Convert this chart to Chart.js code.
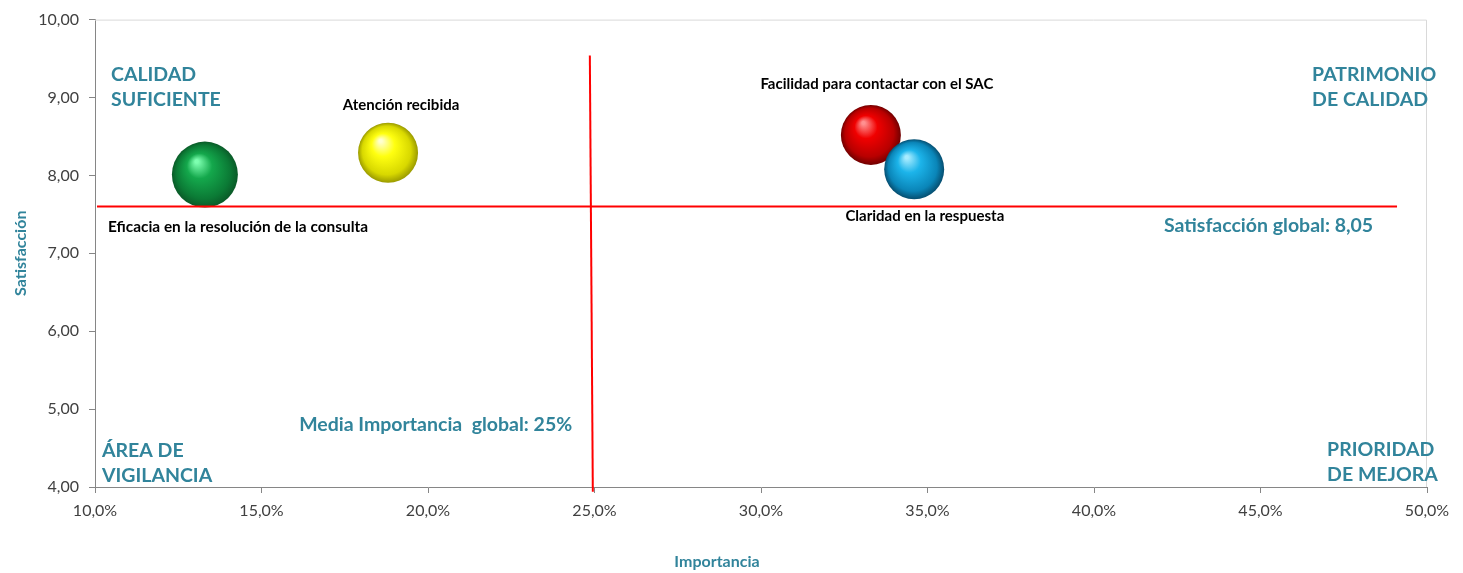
<!DOCTYPE html>
<html>
<head>
<meta charset="utf-8">
<script src="https://cdn.jsdelivr.net/npm/chart.js@4.4.1/dist/chart.umd.min.js"></script>
<style>
  html, body { margin: 0; padding: 0; background: #fff; }
  #wrap { width: 1463px; height: 573px; }
</style>
</head>
<body>
<div id="wrap"><canvas id="chart" width="1463" height="573"></canvas></div>
<script>
// data
const atributos = ["Eficacia en la resolución de la consulta", "Atención recibida", "Facilidad para contactar con el SAC", "Claridad en la respuesta"]
const importancia = [13.3, 18.8, 33.3, 34.6]
const satisfaccion = [8.01, 8.29, 8.52, 8.08]
const tamano = [33, 30, 30, 30]
const colores = [
    ["#7dffb0", "#14a84c", "#0b7a35", "#0a5a28"],
    ["#ffffd0", "#ffff10", "#d8d800", "#9a9a00"],
    ["#ff9090", "#f00000", "#b80000", "#700000"],
    ["#a8ecff", "#1cb4ea", "#0a85b8", "#064e70"]
]
const mediaImportancia = 25
const satisfaccionLinea = 7.6
const xTicks = [10, 15, 20, 25, 30, 35, 40, 45, 50]
const yTicks = [4, 5, 6, 7, 8, 9, 10]

const teal = "#31849B"
const font = "Lato, 'Open Sans', sans-serif"

// textos sobre el grafico (coordenadas en unidades de los ejes)
const textos = [
    { lines: ["CALIDAD", "SUFICIENTE"], x: 10.48, y: 9.29, align: "left", color: teal, size: 19.5, bold: true },
    { lines: ["PATRIMONIO", "DE CALIDAD"], x: 46.55, y: 9.29, align: "left", color: teal, size: 19.5, bold: true },
    { lines: ["ÁREA DE", "VIGILANCIA"], x: 10.21, y: 4.47, align: "left", color: teal, size: 19.5, bold: true },
    { lines: ["PRIORIDAD", "DE MEJORA"], x: 47.0, y: 4.48, align: "left", color: teal, size: 19.5, bold: true },
    { lines: ["Media Importancia  global: 25%"], x: 16.13, y: 4.80, align: "left", color: teal, size: 19.5, bold: true },
    { lines: ["Satisfacción global: 8,05"], x: 42.1, y: 7.35, align: "left", color: teal, size: 19.5, bold: true },
    { lines: [atributos[1]], x: 19.19, y: 8.90, align: "center", color: "#000", size: 15, bold: true },
    { lines: [atributos[2]], x: 33.48, y: 9.17, align: "center", color: "#000", size: 15, bold: true },
    { lines: [atributos[0]], x: 10.39, y: 7.34, align: "left", color: "#000", size: 15.4, bold: true },
    { lines: [atributos[3]], x: 34.92, y: 7.48, align: "center", color: "#000", size: 15, bold: true }
]

function esfera(ctx) {
    let chart = ctx.chart
    let i = ctx.dataIndex
    if (!chart.chartArea || i === undefined) return colores[0][1]
    let cx = chart.scales.x.getPixelForValue(importancia[i])
    let cy = chart.scales.y.getPixelForValue(satisfaccion[i])
    let r = tamano[i]
    let c = colores[i]
    let g = chart.ctx.createRadialGradient(cx - r * 0.25, cy - r * 0.4, r * 0.05, cx, cy, r)
    g.addColorStop(0, c[0])
    g.addColorStop(0.35, c[1])
    g.addColorStop(0.8, c[2])
    g.addColorStop(1, c[3])
    return g
}

const marcoPlugin = {
    id: "marco",
    beforeDatasetsDraw(chart) {
        let { ctx, chartArea: a } = chart
        ctx.save()
        ctx.strokeStyle = "#d9d9d9"
        ctx.lineWidth = 1
        ctx.beginPath()
        ctx.moveTo(a.left, a.top + 0.5)
        ctx.lineTo(a.right - 0.5, a.top + 0.5)
        ctx.lineTo(a.right - 0.5, a.bottom)
        ctx.stroke()
        ctx.restore()
    },
    afterDatasetsDraw(chart) {
        let ctx = chart.ctx
        let sx = chart.scales.x
        let sy = chart.scales.y
        ctx.save()
        ctx.textBaseline = "middle"
        textos.forEach(t => {
            ctx.font = (t.bold ? "bold " : "") + t.size + "px " + font
            ctx.fillStyle = t.color
            ctx.textAlign = t.align
            let px = sx.getPixelForValue(t.x)
            let py = sy.getPixelForValue(t.y)
            t.lines.forEach((l, k) => ctx.fillText(l, px, py + k * 25))
        })
        // titulo del eje x
        ctx.font = "bold 16px " + font
        ctx.fillStyle = teal
        ctx.textAlign = "center"
        ctx.fillText("Importancia", 717, 562)
        ctx.restore()
    }
}

const canvas = document.querySelector("#chart")

const config = {
    type: "bubble",
    data: {
        datasets: [
            {
                label: "Atributos",
                data: importancia.map((v, i) => ({ x: v, y: satisfaccion[i], r: tamano[i] })),
                backgroundColor: esfera,
                borderWidth: 0,
                clip: false,
                order: 2
            },
            {
                type: "line",
                label: "Satisfacción global",
                data: [{ x: 10.06, y: satisfaccionLinea }, { x: 49.1, y: satisfaccionLinea }],
                borderColor: "#ff0000",
                borderWidth: 2,
                pointRadius: 0,
                fill: false,
                clip: false,
                order: 1
            },
            {
                type: "line",
                label: "Media Importancia",
                data: [{ x: mediaImportancia - 0.14, y: 9.54 }, { x: mediaImportancia - 0.05, y: 3.94 }],
                borderColor: "#ff0000",
                borderWidth: 2,
                pointRadius: 0,
                fill: false,
                clip: false,
                order: 1
            }
        ]
    },
    options: {
        responsive: false,
        animation: false,
        layout: { autoPadding: false, padding: { top: 16, right: 36, left: 0, bottom: 0 } },
        plugins: {
            legend: { display: false },
            tooltip: { enabled: false }
        },
        scales: {
            x: {
                type: "linear",
                min: 10,
                max: 50,
                afterBuildTicks: s => { s.ticks = xTicks.map(v => ({ value: v })) },
                afterFit: s => { s.height = 86 },
                ticks: {
                    padding: 8,
                    color: "#404040",
                    font: { family: font, size: 16 },
                    callback: v => v.toFixed(1).replace(".", ",") + "%"
                },
                grid: { drawOnChartArea: false, drawTicks: true, tickLength: 6, color: "#868686" },
                border: { color: "#868686", width: 1 }
            },
            y: {
                type: "linear",
                min: 4,
                max: 10,
                afterBuildTicks: s => { s.ticks = yTicks.map(v => ({ value: v })) },
                afterFit: s => { s.width = 95 },
                ticks: {
                    padding: 10,
                    color: "#404040",
                    font: { family: font, size: 16 },
                    callback: v => v.toFixed(2).replace(".", ",")
                },
                grid: { drawOnChartArea: false, drawTicks: true, tickLength: 6, color: "#868686" },
                border: { color: "#868686", width: 1 },
                title: {
                    display: true,
                    text: "Satisfacción",
                    color: teal,
                    font: { family: font, size: 16, weight: "bold" },
                    padding: { top: 11, bottom: 0 }
                }
            }
        }
    },
    plugins: [marcoPlugin]
}

const myChart = new Chart(canvas, config)
</script>
</body>
</html>
